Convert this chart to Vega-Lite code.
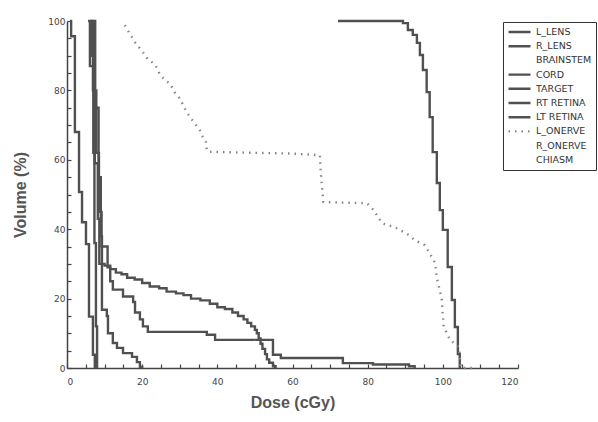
{
  "$schema": "https://vega.github.io/schema/vega-lite/v6.json",
  "width": 451,
  "height": 347,
  "autosize": {"type": "none"},
  "padding": {"left": 67, "top": 21, "right": 80, "bottom": 54},
  "background": "white",
  "config": {
    "view": {"stroke": null},
    "axis": {
      "domainColor": "#444",
      "domainWidth": 1.5,
      "tickColor": "#444",
      "tickWidth": 1.2,
      "grid": false,
      "labelFont": "DejaVu Sans",
      "labelFontSize": 9,
      "labelColor": "#444",
      "titleFont": "Liberation Sans",
      "titleFontSize": 16,
      "titleFontWeight": "bold",
      "titleColor": "#555"
    }
  },
  "data": {
    "values": [
      {"series": "L_LENS", "d": 0.8, "v": 100},
      {"series": "L_LENS", "d": 1.1, "v": 95.6},
      {"series": "L_LENS", "d": 2.1, "v": 68},
      {"series": "L_LENS", "d": 3.2, "v": 50.7},
      {"series": "L_LENS", "d": 4.0, "v": 42},
      {"series": "L_LENS", "d": 5.05, "v": 35.7},
      {"series": "L_LENS", "d": 5.85, "v": 14.8},
      {"series": "L_LENS", "d": 6.9, "v": 3.8},
      {"series": "L_LENS", "d": 7.4, "v": 0},

      {"series": "R_LENS", "d": 6.2, "v": 100},
      {"series": "R_LENS", "d": 6.6, "v": 90},
      {"series": "R_LENS", "d": 7.0, "v": 62},
      {"series": "R_LENS", "d": 7.3, "v": 36},
      {"series": "R_LENS", "d": 7.7, "v": 12},
      {"series": "R_LENS", "d": 8.0, "v": 0},

      {"series": "CORD", "d": 5.6, "v": 100},
      {"series": "CORD", "d": 6.1, "v": 87},
      {"series": "CORD", "d": 7.4, "v": 59},
      {"series": "CORD", "d": 8.2, "v": 43},
      {"series": "CORD", "d": 8.6, "v": 30},
      {"series": "CORD", "d": 10, "v": 29.5},
      {"series": "CORD", "d": 11.5, "v": 28.5},
      {"series": "CORD", "d": 13, "v": 27.5},
      {"series": "CORD", "d": 14.5, "v": 27},
      {"series": "CORD", "d": 16, "v": 26},
      {"series": "CORD", "d": 18, "v": 25.5},
      {"series": "CORD", "d": 20, "v": 24.5},
      {"series": "CORD", "d": 22, "v": 23.5},
      {"series": "CORD", "d": 24.5, "v": 23},
      {"series": "CORD", "d": 26.5, "v": 22},
      {"series": "CORD", "d": 29, "v": 21.5},
      {"series": "CORD", "d": 31, "v": 21},
      {"series": "CORD", "d": 33, "v": 20},
      {"series": "CORD", "d": 35.5, "v": 19.5},
      {"series": "CORD", "d": 38, "v": 18.5},
      {"series": "CORD", "d": 40, "v": 17.5},
      {"series": "CORD", "d": 42, "v": 17},
      {"series": "CORD", "d": 44, "v": 16},
      {"series": "CORD", "d": 45.5, "v": 15},
      {"series": "CORD", "d": 47, "v": 14},
      {"series": "CORD", "d": 48, "v": 13},
      {"series": "CORD", "d": 49, "v": 12},
      {"series": "CORD", "d": 50, "v": 11},
      {"series": "CORD", "d": 50.5, "v": 10},
      {"series": "CORD", "d": 51, "v": 8.5},
      {"series": "CORD", "d": 51.5, "v": 7},
      {"series": "CORD", "d": 52, "v": 5.5},
      {"series": "CORD", "d": 52.7, "v": 4},
      {"series": "CORD", "d": 53.2, "v": 2.5},
      {"series": "CORD", "d": 53.8, "v": 1.5},
      {"series": "CORD", "d": 54.8, "v": 0.5},
      {"series": "CORD", "d": 55.5, "v": 0},

      {"series": "RT RETINA", "d": 6.5, "v": 100},
      {"series": "RT RETINA", "d": 6.9, "v": 80},
      {"series": "RT RETINA", "d": 7.8, "v": 62},
      {"series": "RT RETINA", "d": 8.5, "v": 45},
      {"series": "RT RETINA", "d": 9.2, "v": 35},
      {"series": "RT RETINA", "d": 10.8, "v": 29},
      {"series": "RT RETINA", "d": 11.5, "v": 25},
      {"series": "RT RETINA", "d": 12.2, "v": 22.6},
      {"series": "RT RETINA", "d": 14.9, "v": 20.6},
      {"series": "RT RETINA", "d": 17.6, "v": 19},
      {"series": "RT RETINA", "d": 18.1, "v": 16},
      {"series": "RT RETINA", "d": 19.4, "v": 14},
      {"series": "RT RETINA", "d": 20.2, "v": 12},
      {"series": "RT RETINA", "d": 21.5, "v": 10.4},
      {"series": "RT RETINA", "d": 35.4, "v": 10.4},
      {"series": "RT RETINA", "d": 37.2, "v": 9.6},
      {"series": "RT RETINA", "d": 39.4, "v": 8.1},
      {"series": "RT RETINA", "d": 54.5, "v": 8.1},
      {"series": "RT RETINA", "d": 54.8, "v": 3.8},
      {"series": "RT RETINA", "d": 56.9, "v": 2.9},
      {"series": "RT RETINA", "d": 73.4, "v": 1.4},
      {"series": "RT RETINA", "d": 81.4, "v": 1.0},
      {"series": "RT RETINA", "d": 91, "v": 0.5},
      {"series": "RT RETINA", "d": 92.5, "v": 0},

      {"series": "LT RETINA", "d": 7.0, "v": 100},
      {"series": "LT RETINA", "d": 7.5, "v": 75},
      {"series": "LT RETINA", "d": 8.4, "v": 55},
      {"series": "LT RETINA", "d": 9.0, "v": 38},
      {"series": "LT RETINA", "d": 9.3, "v": 16.8},
      {"series": "LT RETINA", "d": 10.6, "v": 15},
      {"series": "LT RETINA", "d": 10.9, "v": 10},
      {"series": "LT RETINA", "d": 12.2, "v": 7.2},
      {"series": "LT RETINA", "d": 13.3, "v": 5.8},
      {"series": "LT RETINA", "d": 14.9, "v": 4.3},
      {"series": "LT RETINA", "d": 17.3, "v": 3.2},
      {"series": "LT RETINA", "d": 18.6, "v": 1.7},
      {"series": "LT RETINA", "d": 19.4, "v": 0.3},
      {"series": "LT RETINA", "d": 20, "v": 0},

      {"series": "TARGET", "d": 72.1, "v": 100},
      {"series": "TARGET", "d": 89.4, "v": 99.4},
      {"series": "TARGET", "d": 90.7, "v": 97.4},
      {"series": "TARGET", "d": 92.0, "v": 96},
      {"series": "TARGET", "d": 93.1, "v": 93.7},
      {"series": "TARGET", "d": 93.9, "v": 90.2},
      {"series": "TARGET", "d": 94.7, "v": 85.9},
      {"series": "TARGET", "d": 95.7, "v": 79.5},
      {"series": "TARGET", "d": 96.5, "v": 72.3},
      {"series": "TARGET", "d": 97.3, "v": 62.2},
      {"series": "TARGET", "d": 98.4, "v": 53.3},
      {"series": "TARGET", "d": 99.2, "v": 45.5},
      {"series": "TARGET", "d": 100.0, "v": 39.8},
      {"series": "TARGET", "d": 101.3, "v": 29.1},
      {"series": "TARGET", "d": 102.4, "v": 19.6},
      {"series": "TARGET", "d": 103.2, "v": 11.8},
      {"series": "TARGET", "d": 104.0, "v": 4},
      {"series": "TARGET", "d": 104.5, "v": 0},

      {"series": "L_ONERVE", "d": 15.4, "v": 98.8},
      {"series": "L_ONERVE", "d": 18, "v": 94},
      {"series": "L_ONERVE", "d": 20.2, "v": 91},
      {"series": "L_ONERVE", "d": 21.5, "v": 89},
      {"series": "L_ONERVE", "d": 23.4, "v": 87.5},
      {"series": "L_ONERVE", "d": 24.7, "v": 84.6},
      {"series": "L_ONERVE", "d": 26, "v": 83},
      {"series": "L_ONERVE", "d": 27.4, "v": 82},
      {"series": "L_ONERVE", "d": 28.7, "v": 79.4},
      {"series": "L_ONERVE", "d": 30, "v": 77.7},
      {"series": "L_ONERVE", "d": 31.9, "v": 73.6},
      {"series": "L_ONERVE", "d": 35.4, "v": 68.4},
      {"series": "L_ONERVE", "d": 35.9, "v": 67},
      {"series": "L_ONERVE", "d": 37, "v": 65},
      {"series": "L_ONERVE", "d": 37.2, "v": 62.6},
      {"series": "L_ONERVE", "d": 38, "v": 62.3},
      {"series": "L_ONERVE", "d": 50, "v": 62},
      {"series": "L_ONERVE", "d": 60, "v": 61.8},
      {"series": "L_ONERVE", "d": 67.3, "v": 61.3},
      {"series": "L_ONERVE", "d": 67.5, "v": 56.8},
      {"series": "L_ONERVE", "d": 68.2, "v": 47.8},
      {"series": "L_ONERVE", "d": 79.8, "v": 47.5},
      {"series": "L_ONERVE", "d": 81.6, "v": 45.5},
      {"series": "L_ONERVE", "d": 83.8, "v": 41.7},
      {"series": "L_ONERVE", "d": 87.2, "v": 40.6},
      {"series": "L_ONERVE", "d": 90.7, "v": 38.5},
      {"series": "L_ONERVE", "d": 92.6, "v": 36.8},
      {"series": "L_ONERVE", "d": 95.2, "v": 35.4},
      {"series": "L_ONERVE", "d": 97.9, "v": 30.4},
      {"series": "L_ONERVE", "d": 98.4, "v": 26},
      {"series": "L_ONERVE", "d": 99.7, "v": 20},
      {"series": "L_ONERVE", "d": 100.2, "v": 12},
      {"series": "L_ONERVE", "d": 101.9, "v": 8.1},
      {"series": "L_ONERVE", "d": 104.3, "v": 6},
      {"series": "L_ONERVE", "d": 104.8, "v": 0},
      {"series": "L_ONERVE", "d": 108, "v": 0}
    ]
  },
  "encoding": {
    "x": {
      "field": "d", "type": "quantitative",
      "scale": {"domain": [0, 120], "nice": false},
      "axis": {
        "title": "Dose (cGy)",
        "values": [0,5,10,15,20,25,30,35,40,45,50,55,60,65,70,75,80,85,90,95,100,105,110,115,120],
        "labelExpr": "datum.value % 20 === 0 ? datum.label : ''",
        "tickSize": -4,
        "labelPadding": 13,
        "titlePadding": 8
      }
    },
    "y": {
      "field": "v", "type": "quantitative",
      "scale": {"domain": [0, 100], "nice": false},
      "axis": {
        "title": "Volume (%)",
        "values": [0,5,10,15,20,25,30,35,40,45,50,55,60,65,70,75,80,85,90,95,100],
        "labelExpr": "datum.value % 20 === 0 ? datum.label : ''",
        "tickSize": -4,
        "labelPadding": 6,
        "titlePadding": 19
      }
    },
    "color": {
      "field": "series", "type": "nominal",
      "scale": {
        "domain": ["L_LENS","R_LENS","BRAINSTEM","CORD","TARGET","RT RETINA","LT RETINA","L_ONERVE","R_ONERVE","CHIASM"],
        "range": ["#505050","#505050","transparent","#505050","#505050","#505050","#505050","#858585","transparent","transparent"]
      },
      "legend": {
        "title": null,
        "orient": "none",
        "legendX": 436,
        "legendY": 1,
        "symbolType": "stroke",
        "symbolSize": 484,
        "symbolStrokeWidth": 1.5,
        "clipHeight": 12,
        "rowPadding": 2.2,
        "labelFont": "DejaVu Sans",
        "labelFontSize": 9.5,
        "labelColor": "#333",
        "strokeColor": "#333",
        "padding": 4
      }
    },
    "strokeDash": {
      "field": "series", "type": "nominal",
      "scale": {
        "domain": ["L_LENS","R_LENS","BRAINSTEM","CORD","TARGET","RT RETINA","LT RETINA","L_ONERVE","R_ONERVE","CHIASM"],
        "range": [[1,0],[1,0],[1,0],[1,0],[1,0],[1,0],[1,0],[1.5,5],[1,0],[1,0]]
      },
      "legend": {"title": null}
    },
    "strokeWidth": {
      "field": "series", "type": "nominal",
      "scale": {
        "domain": ["L_LENS","R_LENS","BRAINSTEM","CORD","TARGET","RT RETINA","LT RETINA","L_ONERVE","R_ONERVE","CHIASM"],
        "range": [2.4,2.4,2,2.4,2.2,2.4,2.4,1.4,2,2]
      },
      "legend": null
    }
  },
  "layer": [
    {
      "transform": [{"filter": "datum.series !== 'L_ONERVE'"}],
      "mark": {"type": "line", "interpolate": "step-after"}
    },
    {
      "transform": [{"filter": "datum.series === 'L_ONERVE'"}],
      "mark": {"type": "line", "interpolate": "linear"}
    }
  ]
}
